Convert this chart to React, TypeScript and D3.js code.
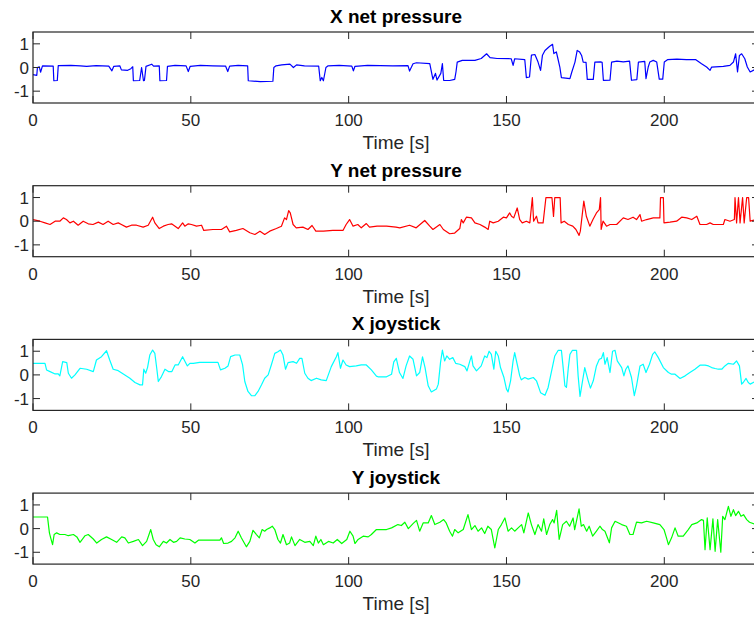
import * as d3 from 'd3'
import React, { useEffect, useRef } from 'react'

// [time s, value]
const xNetPressure: [number, number][] = [
  [0, -0.3], [1.2, -0.33], [1.4, 0], [2, 0.03], [2.4, -0.2], [3, 0.07], [6.4, 0.06], [6.6, -0.56], [7.7, -0.55], [8, 0.08],
  [12, 0.09], [15, 0.07], [17, 0.05], [20, 0.08], [24, 0.06], [25, -0.14], [25.6, 0.05], [27.5, 0.07], [28, -0.1], [30, -0.12],
  [31, -0.05], [31.6, 0.03], [31.8, -0.56], [33.8, -0.55], [34.4, 0], [35, -0.56], [35.3, -0.55], [35.8, 0.05], [37.6, 0.14], [38.2, 0.06],
  [40, 0.07], [40.2, -0.56], [42.3, -0.55], [42.6, 0.05], [45, 0.09], [48.5, 0.07], [49.2, -0.17], [49.8, 0.05], [53, 0.09], [57, 0.07],
  [61, 0.06], [61.7, -0.17], [62.3, 0.06], [65, 0.09], [68, 0.07], [68.2, -0.56], [72, -0.6], [76, -0.58], [76.3, 0], [77, 0.07],
  [78.8, 0.11], [81.4, 0.14], [82.5, 0], [83.5, 0.11], [86, 0.07], [90.5, 0.06], [91, -0.56], [91.5, -0.42], [92, -0.56], [92.8, 0],
  [93.5, 0.07], [97, 0.09], [101, 0.06], [101.5, -0.14], [102, 0.05], [106, 0.09], [110, 0.08], [114, 0.07], [118.8, 0.08], [119.3, -0.15],
  [120.4, 0.16], [121.5, 0.2], [125.7, 0.16], [126.7, -0.5], [127.5, -0.25], [128, -0.53], [129.2, -0.25], [129.7, 0.16], [130.1, -0.54], [132, -0.55],
  [133.6, -0.5], [134, -0.19], [134.4, 0.23], [136, 0.3], [140, 0.3], [142, 0.38], [143.7, 0.58], [144.8, 0.42], [147, 0.38], [151.5, 0.37],
  [152.1, 0.09], [152.6, 0.37], [155.8, 0.33], [156.3, -0.43], [157.3, -0.4], [157.9, 0.52], [159, 0.55], [160, 0.23], [160.8, -0.12], [161.4, 0.52],
  [162.2, 0.72], [163.7, 0.9], [164.6, 0.98], [165, 0.59], [165.8, 0.66], [166.3, 0.37], [166.9, 0.02], [167.4, -0.43], [170.1, -0.47], [170.7, -0.19],
  [171.7, 0.23], [172.4, 0.72], [173.2, 0.65], [173.8, 0.51], [174.3, 0.23], [175.2, 0.22], [175.6, -0.5], [177.5, -0.5], [178, 0.23], [179.8, 0.24],
  [180.3, 0.22], [180.7, -0.54], [182.8, -0.53], [183.3, 0.23], [185, 0.27], [187, 0.24], [189, 0.27], [189.6, -0.54], [191.3, -0.51], [191.8, 0.23],
  [193.8, 0.26], [194.2, -0.47], [194.9, 0.02], [195.4, 0.23], [196.5, 0.3], [197.6, 0.23], [198.4, -0.49], [199.5, -0.49], [200, 0.23], [201, 0.33],
  [204, 0.35], [207, 0.33], [210, 0.33], [211.8, 0.16], [213.4, 0.02], [214.5, -0.12], [215, 0.02], [218.7, 0.05], [220.8, 0.09], [221.9, 0.23],
  [222.6, 0.58], [223.2, -0.19], [223.8, 0.51], [224.5, 0.58], [225.5, 0.37], [226.3, 0.02], [227.2, -0.19], [228.5, -0.1],
]

const yNetPressure: [number, number][] = [
  [0, 0.07], [2.2, 0], [3.8, -0.07], [5.4, -0.14], [7, 0], [8.5, 0], [9.6, 0.14], [10.6, 0.07], [11.7, -0.07], [12.8, 0],
  [14.3, -0.17], [15.9, 0], [17.5, -0.11], [19, -0.14], [20.7, -0.04], [22.2, -0.14], [23.8, 0], [25.4, -0.14], [27, -0.07], [28, -0.14],
  [29.6, -0.25], [31.2, -0.17], [32.8, -0.17], [34.9, -0.25], [36.5, -0.17], [37.9, 0.17], [38.6, -0.07], [40, -0.31], [41.3, -0.21], [42.8, -0.14],
  [43.9, -0.11], [45, -0.21], [46, -0.31], [47.4, -0.07], [48.1, -0.21], [49.2, -0.11], [50.2, -0.14], [51.8, -0.21], [53.4, -0.17], [54.1, -0.39],
  [57, -0.35], [59.7, -0.35], [61.3, -0.21], [62.3, -0.45], [64.4, -0.39], [66.5, -0.31], [68.7, -0.49], [70.3, -0.56], [71.9, -0.42], [73.4, -0.56],
  [75, -0.42], [77.1, -0.31], [78.7, -0.21], [79.7, 0.14], [80.3, 0.07], [81, 0.45], [81.5, 0.35], [82.4, -0.14], [83.4, -0.28], [85.5, -0.25],
  [87.1, -0.35], [88.4, -0.18], [89.6, -0.42], [92, -0.42], [95, -0.39], [98.2, -0.39], [99.2, -0.14], [100.3, 0.07], [101.4, -0.21], [102.9, -0.14],
  [104, -0.28], [105.6, -0.1], [106.6, -0.25], [109, -0.21], [112, -0.21], [115, -0.25], [116.2, -0.28], [119.3, -0.17], [121.4, -0.28], [124.1, 0.03],
  [125.7, -0.21], [126.7, -0.35], [128.9, -0.14], [130, -0.35], [132, -0.53], [133.6, -0.5], [135.2, -0.31], [135.7, 0.07], [136.3, -0.07], [137.3, 0.17],
  [138.9, 0.14], [140, -0.07], [141.6, -0.14], [143.1, -0.25], [144.2, -0.35], [144.7, 0], [145.8, -0.07], [147.4, 0], [149, 0.17], [150, 0.14],
  [151, 0.35], [151.6, 0.21], [152.3, 0.14], [153.4, 0.56], [154.2, 0.07], [155, -0.07], [156.3, 0], [157.4, -0.07], [158.2, 1.0], [158.6, 0],
  [159.5, 0.21], [160, -0.07], [161.6, -0.07], [162.5, 1.0], [164.4, 1.0], [164.9, 0.2], [165.3, 1.0], [167, 1.0], [167.3, -0.07], [168.3, 0],
  [169.6, -0.14], [171, -0.21], [172, -0.35], [173, -0.6], [173.4, -0.42], [174.5, 0.85], [175.3, 0.21], [176.4, -0.21], [177.4, 0.07], [178.5, 0.35],
  [179.4, 0.49], [179.8, 1.0], [180, -0.35], [180.6, 0], [181.7, -0.21], [182.8, -0.14], [184.9, -0.14], [187, 0.14], [188.5, 0.07], [190.1, 0.17],
  [191.2, 0.07], [192.3, 0.28], [192.8, 0], [194.4, 0.07], [196.5, 0.14], [198.6, 0.14], [198.8, 1.0], [199.7, 1.0], [199.9, -0.07], [201.8, -0.04],
  [203.9, 0], [205.5, 0.17], [207.1, 0.14], [208.7, 0.07], [210.3, 0.21], [211.3, -0.14], [213.4, -0.14], [214.5, -0.07], [215.5, -0.14], [218.7, -0.14],
  [219.2, 0.07], [220.8, 0], [222.2, 0.07], [222.4, 1.0], [222.9, -0.07], [223.5, 1.0], [224, -0.07], [224.8, 1.0], [225.3, -0.07], [226.1, 1.0],
  [226.7, 1.0], [227.2, 0], [228.5, 0.05],
]

const xJoystick: [number, number][] = [
  [0, 0.49], [3.8, 0.49], [4.3, 0.21], [5.4, 0.14], [7, 0.04], [8, 0.04], [8.5, -0.04], [9.4, 0.56], [10.7, 0.52], [11.2, 0.07],
  [12.2, -0.14], [13.3, 0], [14.9, 0.28], [17, 0.24], [19.1, 0.14], [20.1, 0.63], [21.7, 0.77], [23.3, 1.02], [24.3, 0.63], [25.4, 0.24],
  [27, 0.18], [29.1, 0], [30.7, -0.14], [32.3, -0.32], [33.9, -0.42], [34.7, -0.42], [35.1, 0.24], [35.7, 0.07], [36.3, 0.32], [37, 0.84],
  [37.9, 1.05], [38.6, 0.91], [39.2, 0.28], [39.7, -0.28], [40.7, -0.07], [41.2, 0.07], [41.8, 0.24], [42.9, 0.14], [44, 0.14], [45, 0.42],
  [46, 0.42], [47.4, 0.77], [48.2, 0.56], [48.9, 0.38], [49.7, 0.49], [50.8, 0.49], [52.8, 0.53], [55.9, 0.53], [58.6, 0.53], [59.4, 0.21],
  [60.8, 0.28], [61.8, 0.38], [62.6, 0.77], [64, 0.84], [65.5, 0.84], [66.4, 0.42], [67.1, -0.28], [68.1, -0.7], [69.2, -0.88], [70.3, -0.88],
  [71.3, -0.7], [72.4, -0.42], [73.4, -0.14], [74.5, 0], [75.5, 0.42], [76.6, 0.91], [77.6, 0.98], [78.4, 1.05], [79.2, 0.84], [80, 0.24],
  [80.8, 0.52], [82.4, 0.56], [83.5, 0.49], [84.5, 0.7], [85.2, 0.7], [86.1, 0.07], [87.1, -0.14], [88.1, -0.24], [89.8, -0.14], [91.3, -0.21],
  [92.9, -0.24], [94.5, 0.35], [96.1, 0.77], [96.6, 0.94], [97.4, 0.28], [98.2, 0.63], [99.2, 0.42], [100.3, 0.35], [102.4, 0.38], [104, 0.42],
  [105.6, 0.42], [107.2, 0.21], [108.8, -0.05], [109.3, -0.08], [112, -0.08], [113.6, 0.03], [114.3, 0.55], [115.1, 0.7], [116.1, 0.1], [117.2, -0.15],
  [118.2, 0.38], [119.3, 0.8], [120.4, 0.66], [121.5, -0.04], [122.5, 0.1], [123.4, 0.76], [124.2, 0.31], [125.2, -0.46], [126.2, -0.72], [127.8, -0.6],
  [128.4, -0.39], [129.1, 0.52], [129.7, 1.05], [130.4, 0.59], [131.1, 0.8], [132, 0.66], [133, 0.73], [133.9, 0.49], [135.2, 0.45], [136.8, 0.35],
  [137.5, 0.17], [138.4, 0.59], [138.9, 0.8], [139.4, 0.38], [140.5, 0.17], [142, 0.38], [143.1, 0.8], [143.8, 0.73], [144.5, 1.0], [145.2, 0.87],
  [146, 0.24], [146.6, 1.0], [147.4, 0.8], [148.1, 0.31], [149.2, -0.11], [150, -0.6], [150.5, -0.72], [151.3, -0.25], [152.1, 0.59], [152.6, 0.94],
  [153.4, 0.45], [154.2, -0.04], [154.7, -0.21], [155.8, -0.11], [156.9, -0.18], [158.5, -0.11], [159.5, -0.25], [160.8, -0.75], [162.2, -0.86], [163.2, -0.53],
  [164.3, 0.17], [165.3, 0.8], [166.4, 1.04], [167.4, 1.04], [167.9, 0.38], [168.5, -0.46], [169, -0.53], [169.6, 0.31], [170.1, 0.87], [170.9, 1.04],
  [172.2, 1.04], [172.7, -0.04], [173.3, -0.91], [174.1, -0.25], [174.8, 0.31], [175.9, -0.25], [176.6, -0.56], [177.5, -0.25], [178.5, 0.38], [179.4, 0.66],
  [180.1, 0.7], [180.7, 0.94], [181.2, 0.45], [181.9, 0.73], [182.8, 0.1], [183.6, 1.0], [184.4, 1.04], [185.1, 0.59], [186.5, 0.31], [187.2, -0.04],
  [187.8, 0.24], [188.5, 0.38], [189.6, -0.11], [190.5, -0.88], [191.2, -0.46], [192.3, 0.38], [193.3, 0.45], [194.2, 0.1], [195.3, 0.45], [196.3, 0.87],
  [197, 0.97], [198.1, 0.73], [199.7, 0.31], [201.3, 0.1], [202.3, 0.03], [203.4, 0.03], [205, -0.15], [206.6, -0.04], [208.1, 0.1], [209.7, 0.24],
  [211.3, 0.41], [212.9, 0.41], [214, 0.38], [215, 0.31], [216.1, 0.27], [217.1, 0.24], [218.2, 0.24], [219.2, 0.38], [220.3, 0.49], [221.9, 0.45],
  [222.9, 0.59], [223.8, 0.38], [224.5, -0.39], [225, -0.32], [225.9, -0.15], [226.6, -0.32], [227.2, -0.39], [228.5, -0.3],
]

const yJoystick: [number, number][] = [
  [0, 0.49], [4.6, 0.49], [5.2, -0.18], [5.6, -0.39], [6.2, -0.68], [6.7, -0.25], [7.5, -0.18], [8.5, -0.25], [10.1, -0.25], [11.2, -0.3],
  [12.8, -0.25], [13.9, -0.35], [14.9, -0.58], [16.5, -0.3], [17.5, -0.25], [19.1, -0.44], [20.2, -0.61], [21.7, -0.46], [23.3, -0.35], [24.9, -0.46],
  [26.5, -0.58], [28.1, -0.35], [29.1, -0.39], [30.2, -0.61], [31.8, -0.54], [33.4, -0.46], [34.7, -0.72], [36, -0.54], [37.3, -0.04], [38.1, -0.46],
  [39, -0.68], [40, -0.77], [41.3, -0.54], [42.3, -0.61], [43.4, -0.46], [44.5, -0.58], [45.5, -0.54], [46.6, -0.39], [48.1, -0.44], [49.7, -0.46],
  [51.3, -0.61], [52.4, -0.49], [55, -0.49], [57, -0.49], [59.2, -0.49], [59.7, -0.39], [60.4, -0.63], [61.8, -0.61], [62.9, -0.54], [64, -0.39],
  [65, -0.11], [66, -0.39], [67.6, -0.77], [68.7, -0.54], [69.7, -0.07], [70.8, -0.25], [71.7, -0.39], [72.6, -0.04], [73.4, -0.11], [74, -0.04],
  [75, 0.03], [75.8, 0.1], [76.6, -0.04], [77.6, -0.46], [78.4, -0.61], [79.2, -0.25], [80.3, -0.68], [81.3, -0.61], [81.9, -0.35], [83, -0.72],
  [84.5, -0.46], [86.1, -0.58], [87.7, -0.54], [88.8, -0.72], [89.6, -0.32], [90.4, -0.61], [91.2, -0.46], [92, -0.68], [93.6, -0.54], [95.1, -0.61],
  [96.4, -0.46], [97.8, -0.63], [99.4, -0.46], [100.4, -0.11], [101.4, -0.32], [102, -0.63], [103, -0.46], [104.6, -0.32], [106.2, -0.35], [107.2, -0.25],
  [108.8, -0.04], [112, -0.04], [113.6, 0.03], [115.6, 0.17], [116.7, 0.13], [117.8, 0.27], [118.9, 0], [120.4, 0.21], [121.5, 0.35], [122.5, -0.11],
  [123.6, 0.24], [125.2, 0.24], [126.2, 0.55], [127.3, 0.17], [128.9, 0.27], [130.1, 0.38], [130.9, 0.24], [132, -0.11], [132.9, -0.32], [133.6, -0.04],
  [134.7, -0.18], [136.3, -0.04], [137.8, 0.59], [138.9, -0.04], [140, 0.13], [141, -0.11], [142.1, 0.03], [143.1, -0.21], [144.1, 0.1], [145.2, -0.04],
  [146.3, -0.82], [147.4, -0.04], [148.4, 0.17], [149.5, 0.45], [150.5, -0.11], [151.6, 0.03], [152.6, -0.11], [153.7, 0.03], [154.8, 0.17], [155.5, -0.18],
  [156.9, 0.66], [157.9, 0.17], [159, -0.25], [160, 0.17], [161.1, -0.11], [161.8, 0.41], [162.7, -0.25], [163.7, 0.17], [164.6, 0.38], [165.1, 0.24],
  [165.9, 0.77], [166.7, -0.46], [167.8, 0.17], [169, 0.31], [170, 0.1], [171.1, 0.45], [171.6, -0.04], [173, 0.83], [173.7, 0.1], [174.4, 0.17],
  [175.4, -0.11], [176.2, 0.1], [177.3, -0.32], [178.5, -0.11], [179.6, 0.1], [180.4, -0.04], [181.2, -0.11], [182.6, -0.6], [183.3, 0.03], [184.4, 0.31],
  [186.5, 0.17], [188, 0.1], [189.1, -0.25], [190.1, -0.25], [191.2, 0.27], [192.8, 0.24], [194.4, 0.31], [196.5, 0.24], [198.6, 0.17], [199.9, -0.04],
  [200.7, -0.39], [201.3, -0.68], [202.3, -0.39], [203.4, 0.03], [204.4, -0.32], [206, -0.32], [207.6, -0.04], [208.7, 0.17], [210.3, 0.24], [211.8, 0.38],
  [212.4, 0.35], [212.9, -0.89], [213.6, 0.45], [214.5, -0.89], [215.4, 0.41], [216.1, -0.96], [216.9, 0.38], [217.9, -1.0], [218.5, 0.52], [219.2, 0.38],
  [220.3, 0.94], [221.1, 0.52], [221.9, 0.8], [222.6, 0.55], [223.5, 0.73], [224.3, 0.52], [225.1, 0.59], [226.1, 0.38], [227, 0.27], [228.5, 0.2],
]

const series = [xNetPressure, yNetPressure, xJoystick, yJoystick]
const titles = ['X net pressure', 'Y net pressure', 'X joystick', 'Y joystick']
const colors = ['#0000ff', '#ff0000', '#00ffff', '#00ff00']
const xTicks = [0, 50, 100, 150, 200]
const yTicks = [-1, 0, 1]
const xDomain = [0, 230]
const yDomain = [-1.5, 1.5]
const xLabel = 'Time [s]'

const W = 754
const H = 621
const FONT = '"Liberation Sans", Arial, Helvetica, sans-serif'

const App = () => {
  const ref = useRef<SVGSVGElement>(null)

  useEffect(() => {
    const svg = d3.select(ref.current)
    svg.selectAll('*').remove()

    // panel geometry
    const left = 33
    const right = 759
    const panelH = 71
    const firstTop = 32
    const step = 153.7
    const tickLen = 7
    const axisColor = '#262626'

    const x = d3.scaleLinear().domain(xDomain).range([left, right])

    series.forEach((data, i) => {
      const top = firstTop + i * step
      const bottom = top + panelH
      const y = d3.scaleLinear().domain(yDomain).range([bottom, top])
      const g = svg.append('g')

      // data line
      const line = d3.line<[number, number]>()
        .x(d => x(d[0]))
        .y(d => y(d[1]))
      g.append('path')
        .attr('d', line(data))
        .attr('fill', 'none')
        .attr('stroke', colors[i])
        .attr('stroke-width', 1.2)
        .attr('stroke-linejoin', 'round')

      // box
      g.append('rect')
        .attr('x', left)
        .attr('y', top)
        .attr('width', right - left)
        .attr('height', panelH)
        .attr('fill', 'none')
        .attr('stroke', axisColor)
        .attr('stroke-width', 1.2)

      // x ticks, bottom and top, pointing in
      xTicks.forEach(t => {
        g.append('line')
          .attr('x1', x(t)).attr('x2', x(t))
          .attr('y1', bottom).attr('y2', bottom - tickLen)
          .attr('stroke', axisColor)
        g.append('line')
          .attr('x1', x(t)).attr('x2', x(t))
          .attr('y1', top).attr('y2', top + tickLen)
          .attr('stroke', axisColor)
        g.append('text')
          .attr('x', x(t))
          .attr('y', bottom + 23)
          .attr('text-anchor', 'middle')
          .attr('font-family', FONT)
          .attr('font-size', 17)
          .attr('fill', axisColor)
          .text(t)
      })

      // y ticks, left and right
      yTicks.forEach(v => {
        g.append('line')
          .attr('x1', left).attr('x2', left + tickLen)
          .attr('y1', y(v)).attr('y2', y(v))
          .attr('stroke', axisColor)
        g.append('line')
          .attr('x1', right).attr('x2', right - tickLen)
          .attr('y1', y(v)).attr('y2', y(v))
          .attr('stroke', axisColor)
        g.append('text')
          .attr('x', left - 4)
          .attr('y', y(v))
          .attr('dy', '0.36em')
          .attr('text-anchor', 'end')
          .attr('font-family', FONT)
          .attr('font-size', 17)
          .attr('fill', axisColor)
          .text(v)
      })

      // title
      g.append('text')
        .attr('x', (left + right) / 2)
        .attr('y', top - 9)
        .attr('text-anchor', 'middle')
        .attr('font-family', FONT)
        .attr('font-size', 19)
        .attr('font-weight', 'bold')
        .attr('fill', '#000')
        .text(titles[i])

      // x label
      g.append('text')
        .attr('x', (left + right) / 2)
        .attr('y', top + 117)
        .attr('text-anchor', 'middle')
        .attr('font-family', FONT)
        .attr('font-size', 19)
        .attr('fill', axisColor)
        .text(xLabel)
    })
  }, [])

  return (
    <svg
      ref={ref}
      width={W}
      height={H}
      style={{ position: 'absolute', left: 0, top: 0, background: '#fff' }}
    />
  )
}

export default App
